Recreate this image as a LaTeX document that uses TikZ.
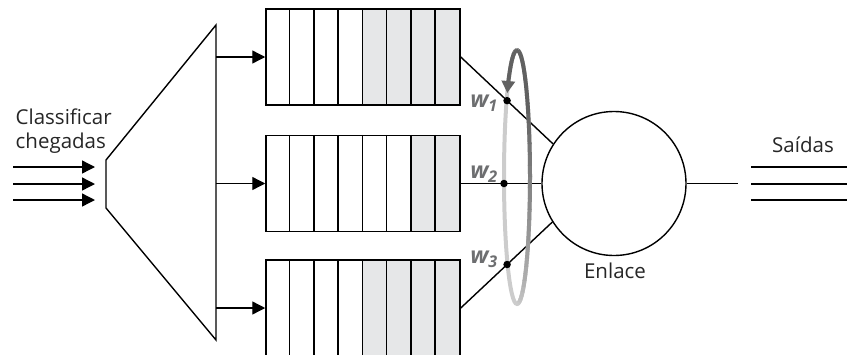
\documentclass[tikz,border=0pt]{standalone}
\usepackage{fontspec}
\setmainfont{Open Sans}
\usetikzlibrary{arrows.meta,calc}
\definecolor{cellgray}{HTML}{E6E7E8}
\definecolor{wgray}{HTML}{6D6E70}
\begin{document}
\begin{tikzpicture}[x=1pt,y=1pt,line width=1.4pt,
  lbl/.style={font=\fontsize{20.5}{24}\selectfont, text=black!85, inner sep=0},
  queue/.style={draw, rectangle, minimum width=194pt, minimum height=96pt, inner sep=0, line width=1.5pt},
  arr/.style={-{Triangle[length=13pt,width=13pt]}},
  wlab/.style={font=\fontsize{23}{24}\selectfont\bfseries\itshape, text=wgray, inner sep=0},
  dot/.style={circle, fill=black, inner sep=0, minimum size=7.5pt}]
\useasboundingbox (0,0) rectangle (847,-354);
% cell shading
\fill[cellgray] (363,-9) rectangle (460,-105);
\fill[cellgray] (411.5,-135.5) rectangle (460,-231.5);
\fill[cellgray] (363,-260) rectangle (460,-356);
% queues
\node[queue] (q1) at (363,-57) {};
\node[queue] (q2) at (363,-183.5) {};
\node[queue] (q3) at (363,-308) {};
\foreach \q in {q1,q2,q3}{
  \foreach \i in {1,...,7}{
    \draw[line width=1.5pt] ($(\q.north west)+(\i*24.25,0)$) -- ($(\q.south west)+(\i*24.25,0)$);
  }
}
% classifier
\coordinate (c1) at (106,-160);
\coordinate (c2) at (216,-25);
\coordinate (c3) at (216,-340);
\coordinate (c4) at (106,-208);
\draw (c1) -- (c2) -- (c3) -- (c4) -- cycle;
\foreach \q in {q1,q2,q3}{
  \draw[arr] (c2 |- \q.west) -- (\q.west);
}
% inputs
\foreach \y/\n in {167/a,184/b,200/c}{
  \coordinate (in\n) at (13,-\y);
  \coordinate (inend\n) at (95,-\y);
  \draw[arr] (in\n) -- (inend\n);
}
\node[lbl, anchor=base west] (cls1) at (15,-124) {Classificar};
\node[lbl, anchor=base west] (cls2) at (15,-148) {chegadas};
% link
\node[draw, circle, minimum size=144pt, inner sep=0] (link) at (614,-183.5) {};
\draw (q1.east) -- (link.147);
\draw (q2.east) -- (link.west);
\draw (q3.east) -- (link.212);
% round robin ellipse
\draw[black!20, line width=4pt] (517,-177) ellipse [x radius=13pt, y radius=127pt];
\foreach \a in {-90,-85,...,115}{
  \pgfmathsetmacro{\c}{int(20+42*min(1,max(0,(\a+90)/120)))}
  \draw[black!\c, line width=4pt] ([shift={(517,-177)}]\a:13pt and 127pt) arc[start angle=\a, end angle=\a+5.5, x radius=13pt, y radius=127pt];
}
\draw[black!62, line width=4pt, -{Triangle[length=12pt,width=13pt]}] ([shift={(517,-177)}]120:13pt and 127pt) arc[start angle=120, end angle=138.6, x radius=13pt, y radius=127pt];
% weight points
\node[dot] (d1) at ($(q1.east)!0.502!(link.147)$) {};
\node[dot] (d2) at (504,-183.5) {};
\node[dot] (d3) at ($(q3.east)!0.506!(link.212)$) {};
\node[wlab] (w1) at (484,-103) {w\textsubscript{1}};
\node[wlab] (w2) at (484,-174) {w\textsubscript{2}};
\node[wlab] (w3) at (484,-259) {w\textsubscript{3}};
% output
\coordinate (oend) at (738,-183.5);
\draw (link.east) -- (oend);
\foreach \y/\n in {167/a,184/b,200/c}{
  \coordinate (os\n) at (751,-\y);
  \coordinate (oe\n) at (847,-\y);
  \draw (os\n) -- (oe\n);
}
\node[lbl, anchor=base] (outl) at (803,-152) {Saídas};
\node[lbl, anchor=base] (linkl) at (615,-278) {Enlace};
\end{tikzpicture}
\end{document}
